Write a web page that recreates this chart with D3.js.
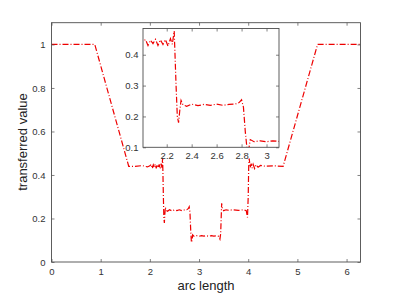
<!DOCTYPE html>
<html>
<head>
<meta charset="utf-8">
<script src="https://cdn.jsdelivr.net/npm/d3@7"></script>
<style>
body { margin: 0; background: #fff; }
svg { font-family: "Liberation Sans", Arial, sans-serif; }
</style>
</head>
<body>
<div id="root"></div>
<script>
var width = 399;
var height = 295;

// data
var arcLength = [0, 0.88, 1.57, 1.7, 1.85, 1.95,
  2.0, 2.03, 2.05, 2.07, 2.09, 2.11, 2.13, 2.15, 2.17, 2.19, 2.21, 2.23, 2.245, 2.26,
  2.275, 2.285, 2.295, 2.305, 2.315, 2.33, 2.36, 2.40, 2.45, 2.5, 2.55, 2.6, 2.65, 2.7, 2.75,
  2.78, 2.80, 2.815, 2.83, 2.845, 2.86, 2.87, 2.9, 2.95, 3.0, 3.05, 3.1, 3.15, 3.2, 3.25,
  3.3, 3.35, 3.40, 3.425, 3.44, 3.45, 3.46, 3.475, 3.5, 3.55, 3.6, 3.7, 3.8, 3.9, 3.96,
  3.985, 4.0, 4.01, 4.02, 4.04, 4.06, 4.08, 4.10, 4.13, 4.16, 4.2, 4.25, 4.35, 4.5, 4.71,
  5.41, 6.2832];
var transferred = [1, 1, 0.44, 0.44, 0.443, 0.437,
  0.442, 0.449, 0.430, 0.447, 0.436, 0.450, 0.430, 0.448, 0.433, 0.449, 0.428, 0.452, 0.434, 0.477,
  0.30, 0.20, 0.18, 0.22, 0.252, 0.238, 0.233, 0.240, 0.235, 0.239, 0.236, 0.240, 0.236, 0.239, 0.240,
  0.245, 0.254, 0.23, 0.15, 0.09, 0.10, 0.125, 0.118, 0.121, 0.118, 0.121, 0.119, 0.121, 0.118, 0.121,
  0.119, 0.12, 0.118, 0.105, 0.13, 0.20, 0.27, 0.245, 0.236, 0.24, 0.238, 0.24, 0.237, 0.24, 0.236,
  0.205, 0.30, 0.44, 0.476, 0.434, 0.452, 0.432, 0.449, 0.430, 0.447, 0.436, 0.444, 0.44, 0.442, 0.44,
  1, 1];

var xTicks = [0, 1, 2, 3, 4, 5, 6];
var yTicks = [0, 0.2, 0.4, 0.6, 0.8, 1];
var insetXTicks = [2.2, 2.4, 2.6, 2.8, 3];
var insetYTicks = [0.1, 0.2, 0.3, 0.4];

var points = arcLength.map(function(d, i) { return [d, transferred[i]]; });

var axisColor = "#4d4d4d";

var svg = d3.select("#root")
  .append("svg")
  .attr("width", width)
  .attr("height", height);

/* main axes */
var x = d3.scaleLinear().domain([0, 2 * Math.PI]).range([51.5, 360.5]);
var y = d3.scaleLinear().domain([0, 1.1]).range([262, 22.7]);

function drawAxes(g, xs, ys, xt, yt, pad, fontSize) {
  var fmt = function(d) { return String(d); };
  var gx = g.append("g").attr("transform", "translate(0," + ys.range()[0] + ")")
    .call(d3.axisBottom(xs).tickValues(xt).tickFormat(fmt).tickSizeInner(-3).tickSizeOuter(0).tickPadding(pad[0]));
  var gxt = g.append("g").attr("transform", "translate(0," + ys.range()[1] + ")")
    .call(d3.axisTop(xs).tickValues(xt).tickFormat("").tickSizeInner(-3).tickSizeOuter(0));
  var gy = g.append("g").attr("transform", "translate(" + xs.range()[0] + ",0)")
    .call(d3.axisLeft(ys).tickValues(yt).tickFormat(fmt).tickSizeInner(-3).tickSizeOuter(0).tickPadding(pad[1]));
  var gyr = g.append("g").attr("transform", "translate(" + xs.range()[1] + ",0)")
    .call(d3.axisRight(ys).tickValues(yt).tickFormat("").tickSizeInner(-3).tickSizeOuter(0));
  [gx, gxt, gy, gyr].forEach(function(a) {
    a.select(".domain").remove();
    a.selectAll("line").attr("stroke", axisColor).attr("stroke-width", 0.7);
    a.selectAll("text").attr("fill", "#333").attr("font-size", fontSize)
      .attr("font-family", "'Liberation Sans', Arial, sans-serif");
  });
  g.append("rect")
    .attr("x", xs.range()[0]).attr("y", ys.range()[1])
    .attr("width", xs.range()[1] - xs.range()[0])
    .attr("height", ys.range()[0] - ys.range()[1])
    .attr("fill", "none").attr("stroke", axisColor).attr("stroke-width", 0.9);
}

var line = d3.line()
  .x(function(d) { return x(d[0]); })
  .y(function(d) { return y(d[1]); });

var main = svg.append("g");

main.append("path")
  .datum(points)
  .attr("fill", "none")
  .attr("stroke", "#ee0000")
  .attr("stroke-width", 1.2)
  .attr("stroke-dasharray", "6,2,1,2")
  .attr("d", line);

drawAxes(main, x, y, xTicks, yTicks, [6, 6], "9.5px");

main.append("text")
  .attr("x", 206).attr("y", 290)
  .attr("text-anchor", "middle")
  .attr("font-size", "13px").attr("fill", "#222")
  .text("arc length");

main.append("text")
  .attr("transform", "translate(27,142) rotate(-90)")
  .attr("text-anchor", "middle")
  .attr("font-size", "13px").attr("fill", "#222")
  .text("transferred value");

/* inset */
var xi = d3.scaleLinear().domain([2.01, 3.1]).range([143, 279]);
var yi = d3.scaleLinear().domain([0.1, 0.485]).range([147.3, 28.5]);

var inset = svg.append("g");

inset.append("rect")
  .attr("x", 143).attr("y", 28.5)
  .attr("width", 279 - 143).attr("height", 147.3 - 28.5)
  .attr("fill", "#fff");

inset.append("clipPath").attr("id", "insetClip")
  .append("rect")
  .attr("x", 143).attr("y", 28.5)
  .attr("width", 279 - 143).attr("height", 147.3 - 28.5);

var insetLine = d3.line()
  .x(function(d) { return xi(d[0]); })
  .y(function(d) { return yi(d[1]); });

inset.append("path")
  .datum(points)
  .attr("clip-path", "url(#insetClip)")
  .attr("fill", "none")
  .attr("stroke", "#ee0000")
  .attr("stroke-width", 1.2)
  .attr("stroke-dasharray", "6,2,1,2")
  .attr("d", insetLine);

drawAxes(inset, xi, yi, insetXTicks, insetYTicks, [5, 4.5], "9.5px");
</script>
</body>
</html>
